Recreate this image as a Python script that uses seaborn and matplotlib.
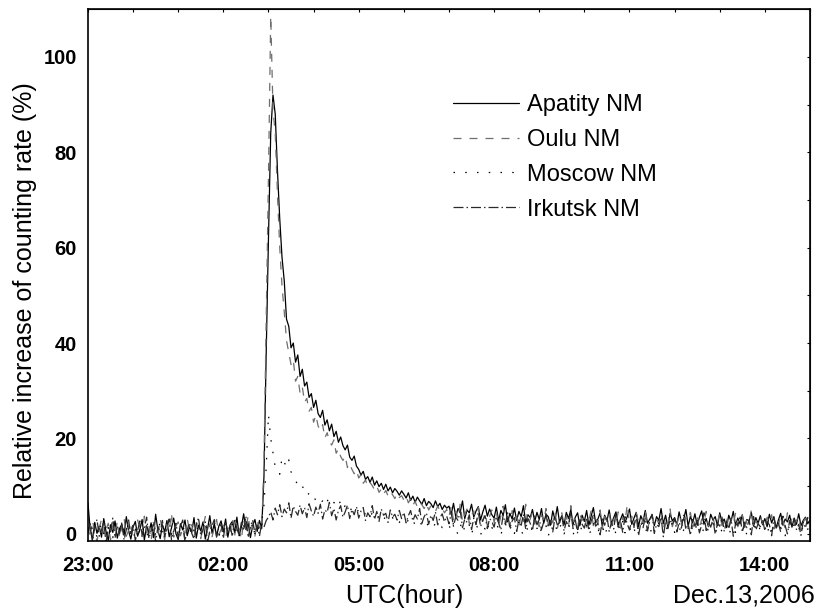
import numpy as np
import pandas as pd
import matplotlib
matplotlib.use("Agg")
import matplotlib.pyplot as plt
import seaborn as sns

# hours after 23:00 UTC (Dec.12 -> Dec.13, 2006), one value every 3 minutes,
# each row below is one hour (20 values)
hours = np.round(np.arange(321) * 0.05, 2)
tick_pos = [0, 3, 6, 9, 12, 15]
tick_labels = ["23:00", "02:00", "05:00", "08:00", "11:00", "14:00"]

apatity = [
    6.5, 0.8, -1.2, 2.4, 0.1, 1.6, -0.7, 3.2, 0.5, -1.4, 1.9, 0.3, 2.7, -0.9, 1.1, 2.0, -0.3, 3.6, 0.6, -1.1,
    1.4, 2.6, -0.5, 0.9, 3.0, -1.3, 1.7, 0.2, 2.3, -0.8, 4.1, 0.7, -1.0, 1.9, 0.4, 2.8, -0.6, 1.2, 3.3, 0.0,
    -1.2, 2.1, 0.8, 2.9, -0.4, 1.5, 0.3, 3.4, -0.9, 1.8, 0.6, 2.5, -1.1, 1.0, 3.8, 0.1, 2.2, -0.5, 1.6, 2.7,
    0.4, 3.1, -0.7, 1.9, 2.6, 0.2, 3.5, -0.3, 1.4, 4.2, 0.9, 2.3, -0.8, 1.7, 3.0, 0.5, 2.8, 1.1, 12.0, 38.0,
    62.0, 84.0, 92.0, 88.0, 76.0, 66.0, 58.0, 53.0, 45.0, 43.5, 39.0, 40.0, 36.0, 37.5, 33.0, 34.5, 31.0, 31.8, 28.6, 29.4,
    26.5, 28.0, 25.2, 24.4, 25.9, 22.8, 23.9, 21.6, 23.0, 20.4, 21.5, 19.2, 20.3, 18.5, 17.6, 18.6, 16.1, 15.4, 16.3, 14.2,
    13.5, 12.3, 13.1, 11.4, 12.0, 10.8, 11.9, 10.2, 11.1, 9.9, 10.6, 9.3, 10.4, 9.0, 9.8, 8.6, 9.5, 8.9, 8.1, 9.0,
    8.3, 7.5, 8.6, 7.0, 7.9, 6.6, 7.7, 6.9, 6.2, 7.4, 5.9, 6.8, 6.3, 5.5, 6.9, 5.7, 6.4, 5.1, 6.0, 5.4,
    5.8, 4.1, 6.4, 3.6, 5.3, 4.6, 6.9, 3.2, 5.0, 4.4, 6.2, 3.5, 4.8, 5.7, 2.9, 4.6, 6.0, 3.7, 5.2, 4.0,
    3.3, 5.6, 2.7, 4.9, 3.9, 6.1, 2.5, 4.3, 3.1, 5.4, 2.8, 4.7, 3.6, 5.9, 2.3, 4.0, 3.4, 5.1, 2.6, 4.5,
    3.0, 5.3, 2.2, 4.1, 3.6, 1.8, 4.8, 2.9, 5.7, 2.4, 3.8, 1.9, 4.5, 3.2, 5.1, 2.0, 3.5, 4.4, 1.7, 3.9,
    2.6, 4.9, 1.8, 3.7, 5.5, 2.3, 3.1, 4.4, 1.6, 3.9, 2.7, 5.0, 2.1, 3.4, 4.6, 1.9, 3.0, 4.2, 2.4, 3.6,
    5.2, 2.0, 3.3, 4.5, 1.5, 3.8, 2.6, 4.9, 2.2, 3.1, 4.0, 1.7, 3.6, 2.8, 5.3, 2.1, 3.9, 1.4, 4.3, 2.7,
    3.4, 1.9, 4.6, 2.5, 3.0, 5.1, 1.6, 3.7, 2.3, 4.2, 1.8, 3.5, 4.8, 2.0, 3.2, 1.5, 4.1, 2.9, 3.6, 1.7,
    4.4, 2.4, 3.1, 1.3, 3.9, 2.6, 4.7, 1.8, 3.3, 2.1, 4.0, 1.4, 3.0, 2.7, 4.5, 1.6, 3.4, 2.2, 3.8, 1.9,
    3.2, 1.5, 4.1, 2.3, 3.6, 1.2, 2.9, 4.3, 1.8, 3.1, 2.5, 3.9, 1.4, 3.3, 2.0, 4.2, 1.7, 2.8, 3.5, 2.1,
    2.9,
]

oulu = [
    1.5, -0.9, 2.8, 0.4, -1.6, 1.2, 3.0, -0.2, 0.9, 2.2, -1.3, 1.7, 0.0, 2.6, -0.8, 1.4, 3.4, -0.5, 0.7, 2.0,
    -1.1, 0.6, 2.9, 1.3, -0.6, 3.7, 0.2, 1.8, -1.4, 2.4, 0.8, -0.3, 3.1, 1.0, -1.2, 2.0, 0.5, 4.4, -0.7, 1.6,
    2.5, -0.4, 1.1, -1.5, 3.2, 0.7, 1.9, -0.8, 2.7, 0.3, -1.0, 1.5, 3.6, 0.0, 2.1, -0.6, 1.2, 3.0, -0.2, 0.9,
    2.3, -0.9, 1.6, 0.4, 3.3, -0.4, 2.0, 1.0, -1.2, 2.9, 0.6, 3.9, 0.1, 1.8, -0.5, 2.6, 1.4, 0.8, 15.0, 45.0,
    75.0, 108.5, 89.0, 84.0, 71.0, 60.0, 52.0, 46.5, 40.5, 38.0, 35.5, 36.5, 32.0, 33.0, 29.5, 30.8, 27.6, 28.4, 25.7, 26.5,
    23.4, 24.9, 22.6, 21.7, 22.9, 20.1, 21.2, 19.4, 18.6, 19.7, 16.9, 17.8, 16.2, 15.4, 16.3, 13.9, 14.8, 13.5, 12.6, 13.4,
    11.7, 12.4, 10.6, 11.3, 9.9, 10.8, 10.1, 9.2, 10.0, 8.7, 9.4, 8.3, 9.1, 7.9, 8.8, 8.2, 7.4, 8.5, 7.6, 8.0,
    7.1, 7.9, 6.5, 7.3, 6.0, 6.8, 5.6, 6.6, 6.1, 5.3, 6.4, 5.0, 5.9, 5.5, 4.7, 5.8, 4.9, 5.4, 4.4, 5.1,
    3.6, 5.9, 2.8, 4.7, 3.2, 6.3, 2.5, 4.1, 5.2, 2.2, 3.9, 4.8, 1.9, 5.5, 3.4, 2.6, 4.4, 1.8, 3.7, 5.0,
    2.4, 4.6, 1.6, 3.8, 5.8, 2.1, 3.3, 1.4, 4.9, 2.9, 3.6, 1.2, 4.3, 2.6, 6.2, 1.8, 3.1, 4.5, 2.0, 3.5,
    1.5, 4.0, 2.7, 5.3, 1.9, 3.4, 2.3, 4.7, 1.1, 3.0, 4.4, 2.0, 3.7, 1.6, 5.9, 2.5, 3.2, 1.3, 4.1, 2.8,
    3.9, 1.4, 2.9, 4.8, 1.7, 3.3, 2.2, 5.0, 1.0, 3.6, 2.6, 4.3, 1.5, 3.1, 2.0, 4.6, 1.2, 3.5, 2.4, 6.1,
    2.1, 3.7, 1.3, 4.4, 2.5, 1.6, 3.2, 4.9, 1.1, 2.7, 3.9, 1.8, 3.0, 2.2, 4.2, 0.9, 3.4, 2.0, 5.2, 1.5,
    3.3, 1.9, 4.0, 2.4, 1.2, 3.6, 2.8, 4.5, 1.4, 2.6, 3.8, 1.0, 3.1, 2.3, 4.7, 1.6, 2.9, 3.5, 1.3, 2.5,
    4.1, 1.7, 2.8, 3.6, 0.9, 3.2, 2.0, 4.3, 1.5, 2.6, 3.9, 1.1, 3.0, 2.4, 5.0, 1.3, 2.7, 1.9, 3.7, 2.2,
    1.4, 3.5, 2.3, 4.0, 1.0, 2.9, 1.8, 3.8, 2.5, 1.2, 4.4, 2.1, 3.1, 1.6, 2.8, 3.6, 0.8, 2.4, 3.3, 1.9,
    2.6,
]

moscow = [
    0.9, -0.2, 1.5, 0.4, -0.6, 1.1, 2.0, 0.1, -0.4, 1.3, 0.7, -0.8, 1.8, 0.3, 0.9, -0.3, 1.4, 0.6, 2.2, -0.1,
    0.5, 1.2, -0.5, 0.8, 1.9, 0.0, -0.7, 1.0, 0.4, 1.6, -0.2, 0.9, 2.4, 0.2, -0.6, 1.3, 0.7, -0.1, 1.7, 0.3,
    1.1, -0.4, 0.6, 1.8, 0.0, 1.4, -0.5, 0.8, 2.1, 0.3, -0.3, 1.2, 0.5, 1.9, -0.2, 0.7, 1.5, 0.1, -0.6, 1.0,
    0.4, 1.6, -0.1, 0.9, 2.0, 0.2, 1.3, -0.4, 0.7, 1.8, 0.0, 1.1, 0.5, 2.3, -0.3, 0.8, 1.4, 2.5, 6.0, 14.0,
    25.0, 20.0, 17.0, 14.0, 13.5, 12.5, 16.0, 15.0, 14.0, 15.5, 13.0, 12.0, 11.0, 10.5, 9.5, 10.0, 9.0, 8.0, 8.5, 7.5,
    7.8, 7.0, 7.4, 6.5, 6.9, 6.1, 7.2, 6.3, 5.8, 6.6, 5.5, 6.2, 6.8, 5.3, 5.9, 5.0, 5.6, 4.8, 5.4, 4.6,
    5.0, 4.4, 4.9, 4.0, 4.6, 3.8, 4.3, 3.5, 4.1, 3.3, 3.9, 3.0, 3.6, 3.2, 2.8, 3.4, 2.6, 3.1, 2.4, 2.9,
    2.7, 2.2, 2.9, 1.9, 2.5, 2.1, 1.7, 2.6, 1.8, 2.3, 1.5, 2.4, 1.9, 1.4, 2.2, 1.6, 2.0, 1.3, 1.9, 1.5,
    1.8, 0.6, 2.3, 1.1, -0.2, 1.5, 2.6, 0.4, 1.2, 1.9, 0.0, 1.4, 2.1, 0.8, -0.4, 1.7, 1.0, 2.4, 0.3, 1.3,
    0.7, 1.9, 1.2, -0.3, 1.6, 2.2, 0.5, 1.0, 1.8, 0.1, 1.4, 2.5, 0.6, -0.2, 1.3, 0.9, 2.0, 0.4, 1.5, 1.1,
    2.1, 0.2, 1.0, 1.7, -0.5, 1.3, 0.8, 2.3, 0.3, 1.5, 1.9, 0.0, 1.1, 2.0, 0.6, -0.3, 1.6, 0.9, 2.2, 0.4,
    1.2, 1.8, -0.1, 0.7, 2.4, 1.0, 0.3, 1.6, 1.9, -0.4, 1.1, 0.5, 2.1, 1.4, 0.0, 1.7, 0.8, 2.6, 0.2, 1.3,
    0.6, 2.0, 1.1, -0.2, 1.5, 0.9, 2.3, 0.4, 1.2, 1.8, -0.5, 1.0, 0.7, 2.2, 1.4, 0.1, 1.9, 0.5, 1.3, 2.4,
    0.3, 1.1, 1.7, -0.3, 0.8, 2.1, 1.2, 0.0, 1.6, 0.6, 2.3, 0.9, -0.4, 1.4, 1.9, 0.5, 1.0, 2.2, 0.2, 1.5,
    1.7, 0.4, 1.2, 2.0, -0.1, 0.9, 1.5, 0.3, 2.4, 1.1, 0.6, 1.8, -0.3, 1.3, 0.7, 2.1, 1.0, 0.2, 1.6, 0.8,
    1.4, -0.2, 1.9, 0.6, 1.1, 2.2, 0.3, 1.5, 0.9, -0.4, 1.7, 1.2, 0.5, 2.0, 0.8, 1.3, -0.1, 1.8, 0.7, 1.0,
    1.2,
]

irkutsk = [
    0.2, 2.1, -1.6, 1.4, 3.0, -0.5, 0.8, 2.6, -1.9, 1.2, 0.4, 3.3, -0.9, 1.7, 0.0, 2.4, -1.3, 0.9, 2.9, -0.3,
    1.8, -1.4, 0.6, 2.7, -0.2, 1.3, 3.5, -1.0, 0.7, 2.0, -1.7, 1.5, 0.3, 2.8, -0.6, 1.1, 3.1, -1.2, 0.5, 2.2,
    -0.8, 1.6, 2.9, -1.5, 0.9, 2.3, 0.1, -1.1, 1.9, 3.4, -0.4, 1.0, 2.5, -1.8, 0.6, 1.7, 3.0, -0.7, 1.3, 2.0,
    -1.0, 2.6, 0.4, 1.8, -0.6, 3.2, 1.1, -0.3, 2.4, 0.7, 3.7, -0.8, 1.5, 2.9, 0.0, 1.9, -0.5, 2.2, 1.4, 2.8,
    3.5, 4.6, 2.9, 5.4, 4.0, 6.1, 3.6, 5.2, 4.4, 6.5, 3.3, 5.8, 4.7, 3.9, 6.0, 4.2, 5.5, 3.4, 6.3, 4.8,
    3.7, 5.6, 4.3, 6.2, 3.1, 5.0, 4.5, 6.6, 3.8, 5.3, 2.9, 4.9, 5.9, 3.5, 4.6, 6.0, 3.2, 5.1, 4.0, 5.7,
    3.3, 4.8, 5.5, 2.8, 4.4, 3.6, 5.9, 3.0, 4.7, 2.6, 5.2, 3.9, 4.3, 2.4, 5.0, 3.5, 4.1, 2.9, 4.9, 3.2,
    4.5, 2.3, 3.8, 4.9, 2.7, 4.0, 3.1, 5.3, 2.2, 3.6, 4.4, 2.0, 3.9, 2.8, 4.6, 1.9, 3.4, 4.2, 2.5, 3.7,
    2.1, 4.3, 1.6, 3.5, 2.8, 4.8, 1.3, 3.1, 2.4, 4.0, 0.9, 3.3, 2.0, 4.5, 1.5, 2.9, 3.8, 1.1, 3.2, 2.6,
    1.4, 3.6, 2.3, 0.8, 3.9, 2.0, 4.4, 1.2, 2.7, 3.4, 0.5, 2.9, 1.8, 4.1, 1.0, 3.2, 2.2, 0.7, 3.7, 1.9,
    3.0, 0.9, 2.5, 4.2, 1.3, 2.8, 0.4, 3.5, 1.9, 2.3, 3.9, 0.6, 2.6, 1.5, 4.6, 1.1, 2.9, 0.2, 3.3, 2.0,
    1.2, 3.4, 0.7, 2.6, 4.0, 1.6, 2.2, -0.2, 3.1, 1.8, 3.7, 0.5, 2.4, 1.0, 4.3, 1.4, 2.8, 0.3, 3.6, 2.1,
    0.8, 2.9, 1.7, 3.8, -0.4, 2.3, 1.3, 3.3, 0.6, 2.7, 4.1, 0.1, 2.0, 1.5, 3.5, -0.6, 2.6, 1.1, 3.0, 1.9,
    3.2, 0.4, 2.4, 1.2, 3.9, 0.9, 2.1, -0.3, 3.4, 1.6, 2.8, 0.2, 1.9, 4.4, 0.7, 2.5, 1.4, 3.1, -0.1, 2.2,
    1.6, 3.5, 0.5, 2.7, 1.0, 3.2, -0.5, 2.0, 1.8, 3.8, 0.3, 2.4, 1.3, 2.9, -0.2, 3.6, 0.8, 2.1, 1.5, 3.0,
    0.6, 2.6, 1.9, -0.4, 3.3, 1.1, 2.3, 0.4, 3.7, 1.7, 0.0, 2.8, 1.4, 3.1, 0.9, 2.0, -0.3, 2.5, 1.2, 3.4,
    1.8,
]

stations = ["Apatity NM", "Oulu NM", "Moscow NM", "Irkutsk NM"]
series = [apatity, oulu, moscow, irkutsk]

df = pd.concat(
    [pd.DataFrame({"hour": hours, "value": v, "station": s}) for s, v in zip(stations, series)],
    ignore_index=True,
)

sns.set_style("white")
plt.rcParams["font.family"] = ["Liberation Sans", "DejaVu Sans"]
plt.rcParams["text.color"] = "black"
plt.rcParams["xtick.color"] = "black"
plt.rcParams["ytick.color"] = "black"
plt.rcParams["axes.labelcolor"] = "black"

fig, ax = plt.subplots(figsize=(8.19, 6.11), dpi=100)
fig.subplots_adjust(left=0.1074, right=0.989, top=0.985, bottom=0.1146)

palette = {"Apatity NM": "#000000", "Oulu NM": "#6e6e6e",
           "Moscow NM": "#000000", "Irkutsk NM": "#2a2a2a"}
dashes = {"Apatity NM": "", "Oulu NM": (6.4, 6.4),
          "Moscow NM": (1.2, 8.2), "Irkutsk NM": (8, 2.4, 1.2, 2.4)}

sns.lineplot(data=df, x="hour", y="value", hue="station", style="station",
             hue_order=stations, style_order=stations, palette=palette,
             dashes=dashes, linewidth=0.9, legend=False, ax=ax,
             estimator=None, sort=False)

ax.set_xlim(0, 16)
ax.set_ylim(-1.5, 110)
ax.set_xticks(tick_pos, tick_labels, fontweight="bold", fontsize=14.5)
ax.set_xticks(np.arange(0, 17, 1), minor=True)
ax.set_yticks(np.arange(0, 101, 20), [str(v) for v in range(0, 101, 20)],
              fontweight="bold", fontsize=14.5)
ax.set_yticks(np.arange(0, 111, 10), minor=True)
ax.tick_params(which="major", direction="in", length=8, width=1.1, pad=8)
ax.tick_params(which="minor", direction="in", length=4.5, width=1.1)
ax.tick_params(axis="x", which="major", pad=11)
for sp in ax.spines.values():
    sp.set_linewidth(1.2)
    sp.set_color("black")

# small ticks along the top and right frame
top = ax.secondary_xaxis("top")
top.set_xticks(np.arange(0, 17, 1))
top.tick_params(direction="in", length=2.5, labeltop=False)
right = ax.secondary_yaxis("right")
right.set_yticks(np.arange(0, 111, 10))
right.tick_params(direction="in", length=2.5, labelright=False)

ax.set_xlabel("")
ax.set_ylabel("")
fig.text(0.031, 0.525, "Relative increase of counting rate (%)", rotation=90,
         ha="center", va="center", fontsize=18)
fig.text(0.494, 0.025, "UTC(hour)", ha="center", va="center", fontsize=18)
fig.text(0.995, 0.025, "Dec.13,2006", ha="right", va="center", fontsize=18)

ax.legend(handles=ax.get_lines()[:4], labels=stations, frameon=False,
          loc="upper left", bbox_to_anchor=(0.553, 0.8465), bbox_transform=fig.transFigure,
          fontsize=17, handlelength=2.8, handletextpad=0.35, labelspacing=0.55,
          borderpad=0, borderaxespad=0)

fig.savefig("out.png", dpi=100)
